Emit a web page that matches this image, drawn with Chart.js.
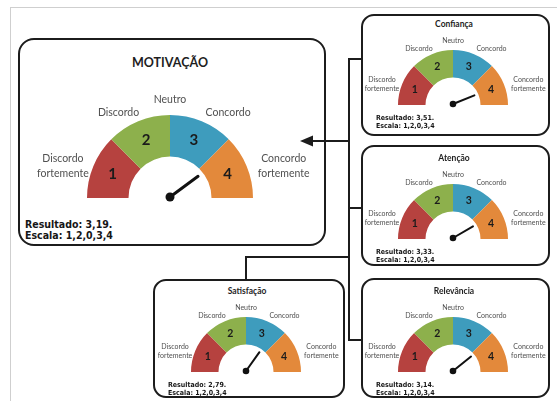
<!DOCTYPE html>
<html lang="pt">
<head>
<meta charset="utf-8">
<script src="https://cdn.jsdelivr.net/npm/chart.js@4.4.1/dist/chart.umd.min.js"></script>
<style>
  html, body { margin: 0; padding: 0; background: #fff; }
  #stage { position: relative; width: 557px; height: 401px; overflow: hidden; background: #fff; }
  .frame-top { position: absolute; left: 10px; top: 7px; right: 0; height: 1px; background: #cfcfcf; }
  .frame-left { position: absolute; left: 10px; top: 7px; bottom: 0; width: 1px; background: #cfcfcf; }
  .panel { position: absolute; box-sizing: border-box; border: 2px solid #1c1c1c; background: #fff; }
  .txt { position: absolute; white-space: nowrap; transform: translate(-50%, -50%); text-align: center; }
  .lbl { font-family: Lato, "Open Sans", sans-serif; color: #505050; }
  .ttl { font-family: Lato, "Open Sans", sans-serif; font-weight: bold; color: #1e1e1e; }
  .res { position: absolute; white-space: nowrap; font-family: "Liberation Sans Narrow", "DejaVu Sans Condensed", Arial, sans-serif; font-weight: bold; color: #161616; transform: translateY(-50%); }
  canvas { position: absolute; }
  svg { position: absolute; left: 0; top: 0; }
</style>
</head>
<body>
<div id="stage">
  <div class="frame-top"></div>
  <div class="frame-left"></div>
</div>
<script>
// Survey dimensions and their mean results
const dimensions = ['MOTIVAÇÃO', 'Confiança', 'Atenção', 'Satisfação', 'Relevância'];
const results = [3.19, 3.51, 3.33, 2.79, 3.14];

// Gauge bands (equal-width segments) and the Likert scale around them
const segmentNumbers = ['1', '2', '3', '4'];
const segmentWeights = [1, 1, 1, 1];
const scaleLabels = ['Discordo fortemente', 'Discordo', 'Neutro', 'Concordo', 'Concordo fortemente'];
const scaleText = '1,2,0,3,4';
const scaleMax = 4;
const segmentColors = ['#b6423f', '#8db04c', '#3e9cbd', '#e3893b'];

// Type sizes for the large panel and the four small ones
const bigType = { label: 10.5, lh: 15, title: 12.5, titleDy: -136, num: 15, res: 10.5, resLh: 11.5, resDy: 26, resDx: 7, needle: 3, hub: 4.5 };
const smallType = { label: 7, lh: 9, title: 8.5, titleDy: -81.5, num: 10.5, res: 7, resLh: 8, resDy: 13, resDx: 15, needle: 2, hub: 3.3 };

// Panel geometry: box [left, top, width, height], gauge centre, outer radius
const panels = [
  { box: [18, 38, 308, 208], corner: 16, cx: 170, by: 198, R: 83, fs: bigType },
  { box: [361, 14, 189, 122], corner: 13, cx: 453, by: 105, R: 55, fs: smallType },
  { box: [361, 145, 189, 121], corner: 13, cx: 453, by: 239, R: 55, fs: smallType },
  { box: [153, 279, 192, 119], corner: 13, cx: 246, by: 372, R: 55, fs: smallType },
  { box: [361, 278, 189, 120], corner: 13, cx: 453, by: 372, R: 55, fs: smallType }
];

// Scale label anchors, in multiples of the outer radius from the gauge centre
const labelAnchors = [
  { dx: -1.29, dy: -0.385 },
  { dx: -0.62, dy: -1.04 },
  { dx: 0.0, dy: -1.19 },
  { dx: 0.70, dy: -1.04 },
  { dx: 1.37, dy: -0.385 }
];

const stage = document.getElementById('stage');

function addText(cls, text, x, y, css) {
  const d = document.createElement('div');
  d.className = cls;
  d.innerHTML = text;
  d.style.left = x + 'px';
  d.style.top = y + 'px';
  Object.assign(d.style, css || {});
  stage.appendChild(d);
  return d;
}

// Numbers on the bands plus the needle and its hub
const gaugeDecor = {
  id: 'gaugeDecor',
  afterDatasetsDraw(chart, args, opts) {
    const ctx = chart.ctx;
    const arcs = chart.getDatasetMeta(0).data;
    ctx.save();
    ctx.font = 'bold ' + opts.num + 'px Lato, "Open Sans", sans-serif';
    ctx.fillStyle = '#1b1b1b';
    ctx.textAlign = 'center';
    ctx.textBaseline = 'middle';
    arcs.forEach((arc, i) => {
      const p = arc.getCenterPoint();
      ctx.fillText(segmentNumbers[i], p.x, p.y);
    });
    const first = arcs[0];
    const last = arcs[arcs.length - 1];
    const ang = first.startAngle + (last.endAngle - first.startAngle) * opts.value / scaleMax;
    const px = first.x;
    const py = first.y - 1;
    const len = first.innerRadius * 0.84;
    ctx.strokeStyle = '#111';
    ctx.lineWidth = opts.needle;
    ctx.lineCap = 'round';
    ctx.beginPath();
    ctx.moveTo(px, py);
    ctx.lineTo(px + Math.cos(ang) * len, py + Math.sin(ang) * len);
    ctx.stroke();
    ctx.fillStyle = '#111';
    ctx.beginPath();
    ctx.arc(px, py, opts.hub, 0, Math.PI * 2);
    ctx.fill();
    ctx.restore();
  }
};

panels.forEach((p, i) => {
  const [bl, bt, bw, bh] = p.box;
  const box = document.createElement('div');
  box.className = 'panel';
  Object.assign(box.style, { left: bl + 'px', top: bt + 'px', width: bw + 'px', height: bh + 'px', borderRadius: p.corner + 'px' });
  stage.appendChild(box);

  const pad = 8;
  const cv = document.createElement('canvas');
  cv.width = p.R * 2;
  cv.height = p.R + pad;
  cv.style.left = (p.cx - p.R) + 'px';
  cv.style.top = (p.by - p.R) + 'px';
  stage.appendChild(cv);

  new Chart(cv, {
    type: 'doughnut',
    data: {
      labels: segmentNumbers,
      datasets: [{ data: segmentWeights, backgroundColor: segmentColors, borderWidth: 0, hoverOffset: 0 }]
    },
    options: {
      responsive: false,
      maintainAspectRatio: false,
      animation: false,
      rotation: -90,
      circumference: 180,
      cutout: '50%',
      layout: { padding: { left: 0, right: 0, top: 0, bottom: pad } },
      events: [],
      plugins: {
        legend: { display: false },
        tooltip: { enabled: false },
        gaugeDecor: { value: results[i], num: p.fs.num, needle: p.fs.needle, hub: p.fs.hub }
      }
    },
    plugins: [gaugeDecor]
  });

  addText('txt ttl', dimensions[i], p.cx + (i ? 1 : 0), p.by + p.fs.titleDy, { fontSize: p.fs.title + 'px' });

  scaleLabels.forEach((s, k) => {
    const a = labelAnchors[k];
    const html = s.replace(' ', '<br>');
    addText('txt lbl', html, p.cx + a.dx * p.R, p.by + a.dy * p.R, { fontSize: p.fs.label + 'px', lineHeight: p.fs.lh + 'px' });
  });

  const val = results[i].toFixed(2).replace('.', ',');
  addText('res', 'Resultado: ' + val + '.<br>Escala: ' + scaleText, bl + p.fs.resDx, p.by + p.fs.resDy + p.fs.resLh / 2, { fontSize: p.fs.res + 'px', lineHeight: p.fs.resLh + 'px' });
});

// Connectors between the dimension panels and the main panel
const svgNS = 'http://www.w3.org/2000/svg';
const svg = document.createElementNS(svgNS, 'svg');
svg.setAttribute('width', 557);
svg.setAttribute('height', 401);
svg.innerHTML =
  '<g stroke="#1c1c1c" stroke-width="2" fill="none">' +
  '<path d="M361 59 H349 V340 H361"/>' +
  '<path d="M349 208 H361"/>' +
  '<path d="M349 257 H246 V279"/>' +
  '<path d="M349 141 H312"/>' +
  '</g>' +
  '<path d="M300 141 L313 135.5 L313 146.5 Z" fill="#1c1c1c"/>';
stage.appendChild(svg);
</script>
</body>
</html>
